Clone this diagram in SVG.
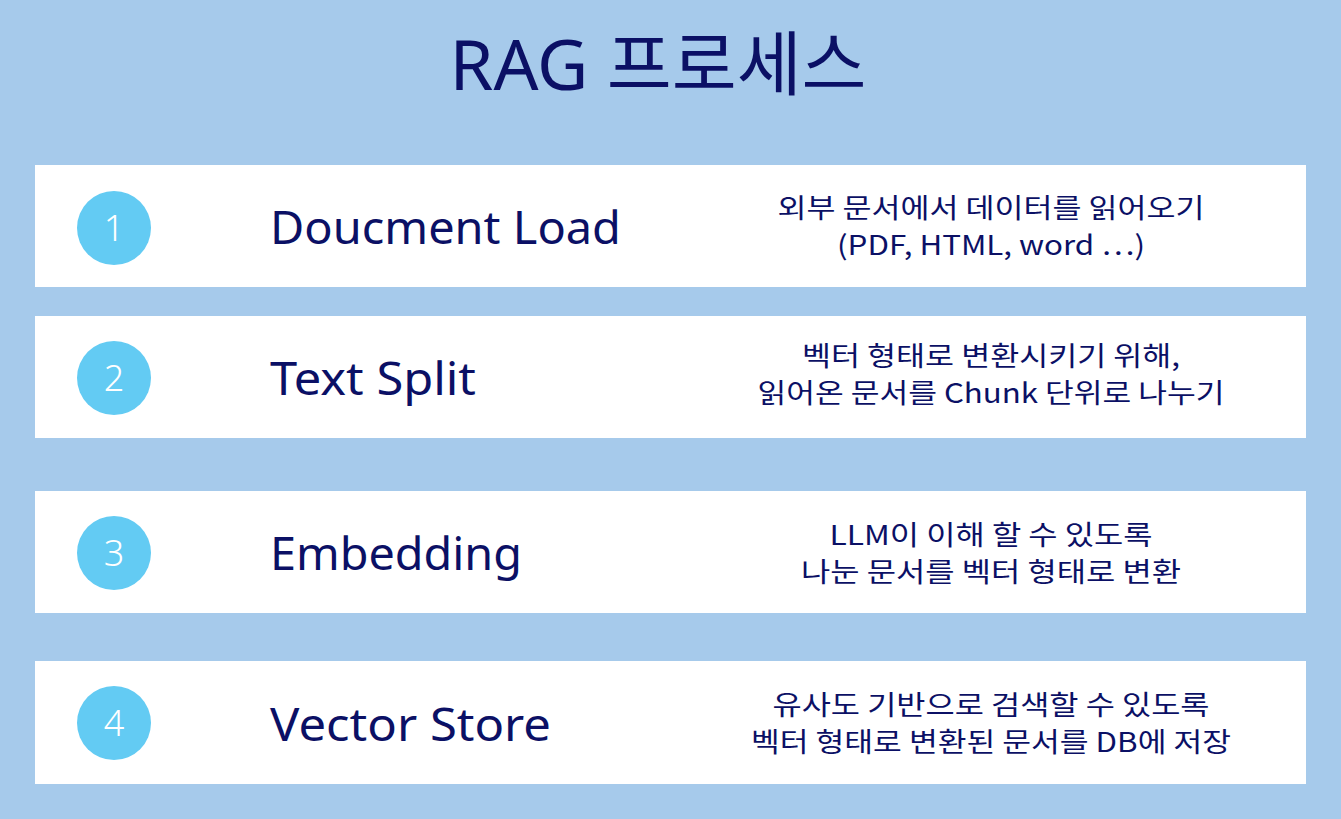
<svg xmlns="http://www.w3.org/2000/svg" width="1341" height="819" viewBox="0 0 1341 819">
<style>
.bg{fill:#A6CAEB}
.box{fill:#FFFFFF}
.num-c{fill:#63CBF3}
.num{fill:#FFFFFF;font-family:"Noto Sans","Noto Sans CJK KR",sans-serif;font-weight:300;font-size:36px;text-anchor:middle}
.title{fill:#0B1065;font-family:"Noto Sans","Noto Sans CJK KR",sans-serif;font-size:70px;text-anchor:middle}
.head{fill:#0B1065;font-family:"Noto Sans","Noto Sans CJK KR",sans-serif;font-size:45px}
.desc{fill:#0B1065;font-family:"Noto Sans CJK KR",sans-serif;font-weight:400;font-size:27px;text-anchor:middle}
</style>
<rect class="bg" x="0" y="0" width="1341" height="819"/>
<text class="title" x="658" y="90" textLength="417" lengthAdjust="spacingAndGlyphs">RAG 프로세스</text>
<g id="step1">
<rect class="box" x="35" y="165" width="1271" height="122"/>
<circle class="num-c" cx="114" cy="228" r="37"/>
<text class="num" x="114" y="241">1</text>
<text class="head" x="270" y="244" textLength="351" lengthAdjust="spacingAndGlyphs">Doucment Load</text>
<text class="desc"><tspan x="991" y="218" textLength="427" lengthAdjust="spacingAndGlyphs">외부 문서에서 데이터를 읽어오기</tspan><tspan x="991" y="255" textLength="308" lengthAdjust="spacingAndGlyphs">(PDF, HTML, word …)</tspan></text>
</g>
<g id="step2">
<rect class="box" x="35" y="316" width="1271" height="122"/>
<circle class="num-c" cx="114" cy="378" r="37"/>
<text class="num" x="114" y="391">2</text>
<text class="head" x="270" y="395" textLength="206" lengthAdjust="spacingAndGlyphs">Text Split</text>
<text class="desc"><tspan x="991" y="366" textLength="378" lengthAdjust="spacingAndGlyphs">벡터 형태로 변환시키기 위해,</tspan><tspan x="991" y="403" textLength="467" lengthAdjust="spacingAndGlyphs">읽어온 문서를 Chunk 단위로 나누기</tspan></text>
</g>
<g id="step3">
<rect class="box" x="35" y="491" width="1271" height="122"/>
<circle class="num-c" cx="114" cy="553" r="37"/>
<text class="num" x="114" y="566">3</text>
<text class="head" x="270" y="570" textLength="252" lengthAdjust="spacingAndGlyphs">Embedding</text>
<text class="desc"><tspan x="991" y="545" textLength="323" lengthAdjust="spacingAndGlyphs">LLM이 이해 할 수 있도록</tspan><tspan x="991" y="582" textLength="380" lengthAdjust="spacingAndGlyphs">나눈 문서를 벡터 형태로 변환</tspan></text>
</g>
<g id="step4">
<rect class="box" x="35" y="661" width="1271" height="123"/>
<circle class="num-c" cx="114" cy="723" r="37"/>
<text class="num" x="114" y="736">4</text>
<text class="head" x="270" y="741" textLength="281" lengthAdjust="spacingAndGlyphs">Vector Store</text>
<text class="desc"><tspan x="991" y="715" textLength="437" lengthAdjust="spacingAndGlyphs">유사도 기반으로 검색할 수 있도록</tspan><tspan x="991" y="752" textLength="480" lengthAdjust="spacingAndGlyphs">벡터 형태로 변환된 문서를 DB에 저장</tspan></text>
</g>
<g id="connectors"></g>
</svg>
